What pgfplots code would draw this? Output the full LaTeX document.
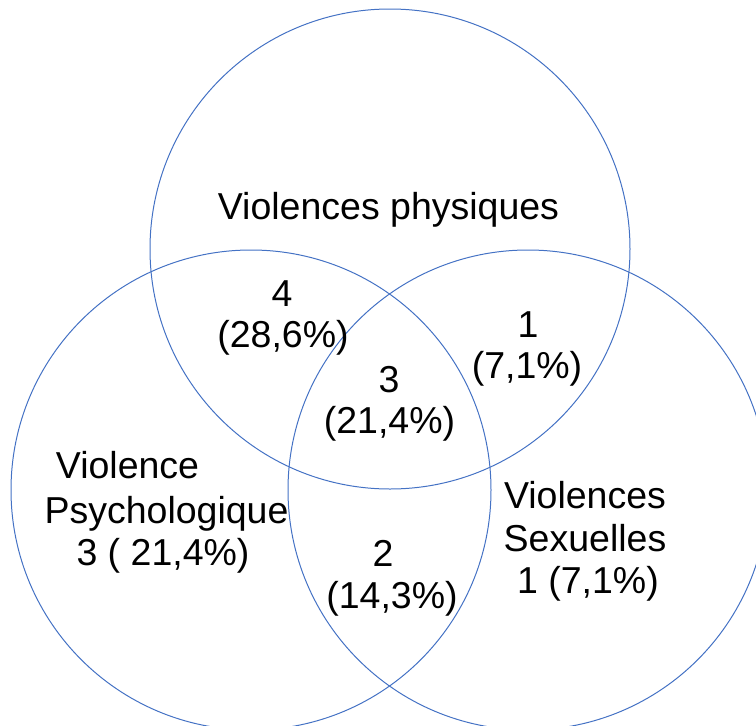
\documentclass[border=0pt]{standalone}
\usepackage{fontspec}
\setmainfont{Liberation Sans}
\usepackage{pgfplots}
\pgfplotsset{compat=1.18}
\definecolor{vennblue}{HTML}{4472C4}
\begin{document}
\begin{tikzpicture}
\begin{axis}[
  width=756pt, height=726pt, scale only axis,
  xmin=0, xmax=756, ymin=0, ymax=726,
  y dir=reverse,
  hide axis, clip=true,
]
% circle centres (pixels) and radius
\draw[vennblue, line width=1pt] (axis cs:390,249) circle[radius=240];
\draw[vennblue, line width=1pt] (axis cs:251,490) circle[radius=240];
\draw[vennblue, line width=1pt] (axis cs:528,490) circle[radius=240];
\begin{scope}[every node/.style={anchor=base, inner sep=0pt, font=\fontsize{37.5}{44}\selectfont}]
\node at (axis cs:388.5,219) {Violences physiques};
\node at (axis cs:282,306) {4};
\node at (axis cs:283,347) {(28,6\%)};
\node at (axis cs:389,392) {3};
\node at (axis cs:389.5,433) {(21,4\%)};
\node at (axis cs:528,337) {1};
\node at (axis cs:527,378) {(7,1\%)};
\node at (axis cs:127.5,478) {Violence};
\node at (axis cs:166.5,523) {Psychologique};
\node at (axis cs:163,565) {3 ( 21,4\%)};
\node at (axis cs:585,508) {Violences};
\node at (axis cs:585,551) {Sexuelles};
\node at (axis cs:588,593) {1 (7,1\%)};
\node at (axis cs:383,566) {2};
\node at (axis cs:392,608) {(14,3\%)};
\end{scope}
\end{axis}
\pgfresetboundingbox
\useasboundingbox (current axis.south west) rectangle (current axis.north east);
\end{tikzpicture}
\end{document}
